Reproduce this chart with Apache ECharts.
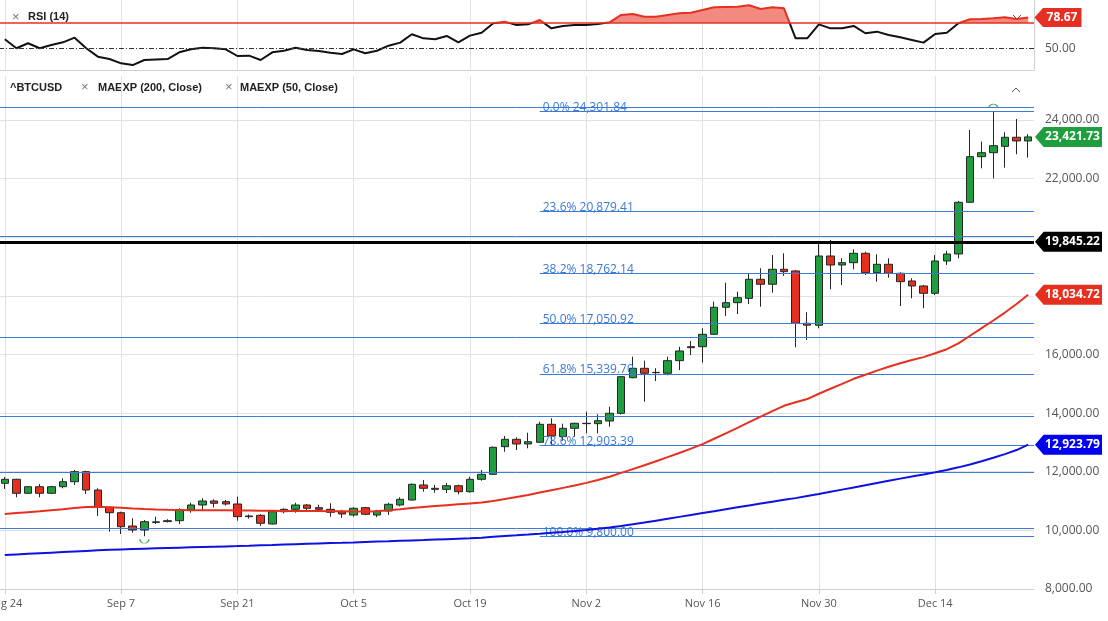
<!DOCTYPE html>
<html>
<head>
<meta charset="utf-8">
<title>^BTCUSD</title>
<script src="https://cdn.jsdelivr.net/npm/echarts@6/dist/echarts.min.js"></script>
<style>
html, body { margin: 0; padding: 0; background: #fff; }
#chart { width: 1108px; height: 621px; }
</style>
</head>
<body>
<div id="chart"></div>
<script>
// trading days Aug 24 - Dec 24 2020
var dates = [
  'Aug 24','Aug 25','Aug 26','Aug 27','Aug 28','Aug 31',
  'Sep 1','Sep 2','Sep 3','Sep 4','Sep 7','Sep 8','Sep 9','Sep 10','Sep 11',
  'Sep 14','Sep 15','Sep 16','Sep 17','Sep 18','Sep 21','Sep 22','Sep 23','Sep 24','Sep 25',
  'Sep 28','Sep 29','Sep 30','Oct 1','Oct 2','Oct 5','Oct 6','Oct 7','Oct 8','Oct 9',
  'Oct 12','Oct 13','Oct 14','Oct 15','Oct 16','Oct 19','Oct 20','Oct 21','Oct 22','Oct 23',
  'Oct 26','Oct 27','Oct 28','Oct 29','Oct 30','Nov 2','Nov 3','Nov 4','Nov 5','Nov 6',
  'Nov 9','Nov 10','Nov 11','Nov 12','Nov 13','Nov 16','Nov 17','Nov 18','Nov 19','Nov 20',
  'Nov 23','Nov 24','Nov 25','Nov 26','Nov 27','Nov 30','Dec 1','Dec 2','Dec 3','Dec 4',
  'Dec 7','Dec 8','Dec 9','Dec 10','Dec 11','Dec 14','Dec 15','Dec 16','Dec 17','Dec 18',
  'Dec 21','Dec 22','Dec 23','Dec 24'
];

var opens = [
  11606, 11742, 11265, 11490, 11265, 11490, 11660, 12002, 11377, 10787,
  10603, 10149, 10013, 10270, 10300, 10330, 10695, 10866, 11002, 10980,
  10900, 10490, 10514, 10218, 10637, 10719, 10866, 10775, 10719, 10637,
  10524, 10775, 10524, 10661, 10866, 11036, 11548, 11435, 11400, 11524,
  11320, 11742, 11913, 12855, 13107, 12947, 13005, 13619, 13196, 13482,
  13653, 13640, 13730, 13994, 15209, 15529, 15380, 15359, 15789, 16266,
  16266, 16689, 17610, 17767, 17915, 18565, 18395, 18907, 18850, 17064,
  16996, 19360, 19053, 19132, 19452, 18791, 19077, 18770, 18508, 18337,
  18087, 19190, 19428, 21192, 22748, 22884, 23100, 23410, 23284
];
var closes = [
  11742, 11265, 11490, 11265, 11490, 11660, 12002, 11377, 10787, 10603,
  10125, 10013, 10296, 10290, 10330, 10695, 10866, 11002, 10924, 10900,
  10467, 10467, 10241, 10637, 10719, 10866, 10753, 10719, 10617, 10558,
  10753, 10548, 10661, 10889, 11060, 11572, 11435, 11400, 11524, 11320,
  11742, 11913, 12834, 13107, 12947, 13025, 13619, 13220, 13482, 13653,
  13640, 13742, 13994, 15243, 15529, 15359, 15390, 15789, 16120, 16232,
  16689, 17610, 17767, 17938, 18565, 18395, 18907, 18825, 17064, 17000,
  19360, 19053, 19132, 19452, 18791, 19077, 18770, 18484, 18337, 18087,
  19190, 19428, 21192, 22748, 22884, 23123, 23410, 23284, 23421.73
];
var highs = [
  11821, 11760, 11510, 11582, 11520, 11777, 12060, 12036, 11435, 10800,
  10637, 10412, 10354, 10467, 10380, 10753, 10944, 11094, 11060, 11040,
  11149, 10540, 10558, 10680, 10753, 10944, 10900, 10876, 10924, 10700,
  10790, 10800, 10700, 10944, 11128, 11600, 11719, 11548, 11617, 11560,
  11830, 12060, 12860, 13220, 13175, 13333, 13708, 13823, 13640, 13674,
  14049, 13960, 14219, 15260, 15925, 15789, 15530, 15925, 16266, 16460,
  16894, 17800, 18449, 18142, 18770, 18941, 19394, 19452, 18883, 17440,
  19794, 19906, 19282, 19589, 19507, 19418, 19282, 18804, 18600, 18371,
  19394, 19541, 21237, 23659, 23260, 24301.84, 23580, 24034, 23513
];
var lows = [
  11412, 11128, 11250, 11128, 11240, 11435, 11548, 11241, 10490, 9955,
  9876, 9921, 9800, 10218, 10270, 10218, 10603, 10671, 10780, 10850,
  10330, 10400, 10150, 10200, 10580, 10603, 10690, 10660, 10467, 10425,
  10467, 10520, 10450, 10524, 10820, 11020, 11320, 11286, 11275, 11230,
  11285, 11695, 11890, 12684, 12742, 12800, 12980, 12912, 13060, 13196,
  13311, 13311, 13537, 13950, 15190, 14390, 15096, 15290, 15470, 15983,
  15720, 16665, 17313, 17382, 17723, 17631, 18108, 18680, 16245, 16495,
  16894, 18224, 18370, 18907, 18712, 18484, 18620, 17655, 17917, 17576,
  18030, 19053, 19282, 21192, 22352, 22011, 22373, 22830, 22714
];

var ema50 = [
  10560, 10590, 10620, 10650, 10685, 10720, 10760, 10800, 10810, 10790,
  10770, 10745, 10725, 10710, 10700, 10695, 10690, 10690, 10688, 10685,
  10680, 10675, 10670, 10668, 10665, 10663, 10660, 10658, 10655, 10650,
  10645, 10645, 10650, 10690, 10720, 10760, 10800, 10830, 10860, 10890,
  10920, 10950, 11000, 11070, 11140, 11210, 11290, 11370, 11450, 11530,
  11620, 11720, 11831, 11960, 12090, 12220, 12360, 12500, 12640, 12790,
  12940, 13125, 13310, 13495, 13690, 13880, 14070, 14250, 14370, 14480,
  14660, 14830, 15000, 15170, 15310, 15450, 15580, 15700, 15810, 15910,
  16040, 16180, 16380, 16640, 16900, 17160, 17430, 17720, 18034.72
];
var ema200 = [
  9160, 9180, 9200, 9220, 9240, 9260, 9280, 9300, 9318, 9335,
  9350, 9362, 9374, 9386, 9398, 9410, 9421, 9432, 9443, 9454,
  9465, 9477, 9490, 9502, 9515, 9527, 9540, 9552, 9565, 9577,
  9590, 9605, 9618, 9630, 9643, 9656, 9670, 9685, 9700, 9716,
  9732, 9750, 9780, 9805, 9830, 9858, 9887, 9917, 9948, 9980,
  10015, 10055, 10100, 10150, 10205, 10265, 10330, 10395, 10460, 10525,
  10590, 10655, 10720, 10785, 10850, 10915, 10980, 11045, 11100, 11170,
  11240, 11315, 11390, 11465, 11540, 11615, 11690, 11765, 11835, 11905,
  11980, 12060, 12150, 12250, 12360, 12475, 12600, 12740, 12923.79
];
var rsi = [
  58.5, 50.2, 54.8, 50.2, 53.2, 55.7, 60.0, 50.2, 42.4, 40.2,
  36.2, 34.6, 39.3, 39.8, 40.2, 46.4, 49.2, 50.7, 50.2, 49.2,
  43.0, 43.3, 39.3, 46.4, 47.9, 50.7, 48.6, 47.6, 46.1, 44.9,
  49.2, 45.5, 47.9, 52.6, 55.4, 63.2, 59.4, 58.5, 61.6, 55.7,
  61.9, 64.6, 73.4, 74.9, 71.8, 72.4, 76.4, 68.7, 70.9, 71.8,
  71.8, 72.7, 74.3, 81.1, 82.0, 79.5, 79.5, 81.1, 82.7, 83.2,
  85.7, 88.2, 88.5, 88.8, 90.1, 86.6, 88.2, 87.3, 59.4, 59.4,
  72.4, 68.7, 68.7, 70.9, 64.1, 65.6, 62.5, 60.4, 57.9, 55.4,
  63.4, 64.6, 73.4, 77.1, 77.4, 78.0, 78.9, 77.4, 78.67
];

var fibRatios = ['0.0%', '23.6%', '38.2%', '50.0%', '61.8%', '78.6%', '100.0%'];
var fibLevels = [24301.84, 20879.41, 18762.14, 17050.92, 15339.70, 12903.39, 9800.00];
var fibStart = 46; // first candle of the retracement lines
var hLines = [24420, 20030, 16580, 13880, 11975, 10071];
var keyLevel = 19845.22;
var rsiLimit = 74;
var rsiMid = 50;

var GREEN = '#1e9e3c', RED = '#e6301f', BLUE = '#1010e0', FIB = '#3b7ad6';
var GRID_LEFT = -1, GRID_RIGHT = 74;

function fmt(v) {
  return v.toLocaleString('en-US', {minimumFractionDigits: 2, maximumFractionDigits: 2});
}

var n = dates.length;
var last = n - 1;
var candles = dates.map(function (d, i) { return [opens[i], closes[i], lows[i], highs[i]]; });
var hiIdx = highs.indexOf(Math.max.apply(null, highs));
var loIdx = lows.indexOf(Math.min.apply(null, lows));

var tagPath = 'path://M0,10 L9,0 L70,0 L70,20 L9,20 Z';
function tag(value, color, w) {
  return {
    coord: [n, value],
    symbol: tagPath,
    symbolSize: [w, 20],
    symbolOffset: [w / 2 + 1, 0],
    itemStyle: {color: color},
    label: {show: true, position: 'inside', offset: [4, 0], formatter: fmt(value),
      color: '#fff', fontWeight: 'bold', fontSize: 12, fontFamily: 'Open Sans'}
  };
}

var fibLines = fibLevels.map(function (v, k) {
  return [
    {name: fibRatios[k] + ' ' + fmt(v), coord: [fibStart + 0.5, v]},
    {coord: [n, v]}
  ];
});
var plainLines = hLines.map(function (v) {
  return {yAxis: v, label: {show: false}};
});

var splitX = {show: true, interval: 9, alignWithLabel: true, lineStyle: {color: '#e2e2e2'}};
var axisFont = {color: '#555', fontSize: 12, fontFamily: 'Open Sans'};

var myChart = echarts.init(document.getElementById('chart'));

var option = {
  animation: false,
  backgroundColor: '#fff',
  grid: [
    {left: GRID_LEFT, right: GRID_RIGHT, top: 0, height: 70, outerBoundsMode: 'none', containLabel: false},
    {left: GRID_LEFT, right: GRID_RIGHT, top: 76, bottom: 32, outerBoundsMode: 'none', containLabel: false}
  ],
  xAxis: [
    {
      type: 'category', gridIndex: 1, data: dates, boundaryGap: true,
      axisLine: {lineStyle: {color: '#cfcfcf'}},
      axisTick: {show: true, interval: 9, alignWithLabel: true, length: 5, lineStyle: {color: '#cfcfcf'}},
      axisLabel: {interval: 9, margin: 9, color: '#555', fontSize: 11, fontFamily: 'Open Sans'},
      splitLine: splitX
    },
    {type: 'value', gridIndex: 1, min: 0, max: n, show: false},
    {
      type: 'category', gridIndex: 0, data: dates, boundaryGap: true,
      axisLine: {lineStyle: {color: '#cfcfcf'}},
      axisTick: {show: false}, axisLabel: {show: false},
      splitLine: splitX
    }
  ],
  yAxis: [
    {
      type: 'value', gridIndex: 0, position: 'right', min: 30, max: 95, interval: 5,
      axisLine: {show: true, lineStyle: {color: '#cfcfcf'}},
      axisTick: {show: false},
      splitLine: {show: false},
      axisLabel: Object.assign({margin: 11, formatter: function (v) { return v === rsiMid ? fmt(v) : ''; }}, axisFont)
    },
    {
      type: 'value', gridIndex: 1, position: 'right', min: 8000, max: 25500, interval: 2000,
      axisLine: {show: true, lineStyle: {color: '#cfcfcf'}},
      axisTick: {show: false},
      splitLine: {show: true, showMaxLine: false, lineStyle: {color: '#e2e2e2'}},
      axisLabel: Object.assign({margin: 11, showMaxLabel: false, formatter: function (v) { return fmt(v); }}, axisFont)
    }
  ],
  visualMap: {
    type: 'piecewise', show: false, seriesIndex: 4, dimension: 1,
    pieces: [
      {gte: 0, lte: rsiLimit, color: '#111'},
      {gt: rsiLimit, lte: 100, color: RED}
    ],
    outOfRange: {color: '#111'}
  },
  series: [
    {
      name: '^BTCUSD', type: 'candlestick', xAxisIndex: 0, yAxisIndex: 1,
      data: candles, barWidth: 8, z: 4,
      itemStyle: {color: GREEN, color0: RED, borderColor: '#262626', borderColor0: '#262626', borderWidth: 1}
    },
    {
      name: 'MAEXP (50, Close)', type: 'line', xAxisIndex: 0, yAxisIndex: 1, data: ema50,
      showSymbol: false, z: 5, lineStyle: {color: RED, width: 2}, itemStyle: {color: RED}
    },
    {
      name: 'MAEXP (200, Close)', type: 'line', xAxisIndex: 0, yAxisIndex: 1, data: ema200,
      showSymbol: false, z: 5, lineStyle: {color: BLUE, width: 2}, itemStyle: {color: BLUE}
    },
    {
      name: 'levels', type: 'line', xAxisIndex: 1, yAxisIndex: 1, data: [], z: 2,
      markLine: {
        silent: true, symbol: ['none', 'none'], animation: false,
        lineStyle: {color: FIB, width: 1, type: 'solid'},
        label: {show: true, position: 'insideStartTop', formatter: '{b}', distance: [3, -2],
          color: FIB, fontSize: 12, fontFamily: 'Open Sans'},
        data: plainLines.concat(fibLines).concat([
          {yAxis: keyLevel, label: {show: false}, lineStyle: {color: '#000', width: 3}}
        ])
      },
      markPoint: {
        silent: true, animation: false,
        data: [
          tag(closes[last], GREEN, 67),
          tag(keyLevel, '#000', 67),
          tag(ema50[last], RED, 67),
          tag(ema200[last], '#0000ee', 67),
          {coord: [hiIdx + 0.5, highs[hiIdx]], symbol: 'path://M0,10 A10,10 0 0 1 20,10',
            symbolSize: [9, 4], symbolOffset: [0, -5],
            itemStyle: {color: 'none', borderColor: '#3aa85a', borderWidth: 1}, label: {show: false}},
          {coord: [loIdx + 0.5, lows[loIdx]], symbol: 'path://M0,0 A10,10 0 0 0 20,0',
            symbolSize: [9, 4], symbolOffset: [0, 5],
            itemStyle: {color: 'none', borderColor: '#3aa85a', borderWidth: 1}, label: {show: false}}
        ]
      }
    },
    {
      id: 'rsi', name: 'RSI (14)', type: 'line', xAxisIndex: 2, yAxisIndex: 0, data: rsi,
      showSymbol: false, z: 4, lineStyle: {width: 2},
      markLine: {
        silent: true, symbol: ['none', 'none'], animation: false, label: {show: false},
        data: [
          {yAxis: rsiLimit, lineStyle: {color: RED, width: 1.5, type: 'solid'}},
          {yAxis: rsiMid, lineStyle: {color: '#333', width: 1, type: [5, 2, 1, 2]}}
        ]
      },
      markPoint: {
        silent: true, animation: false,
        data: [{
          coord: [last, rsi[last]], symbol: 'path://M0,10 L9,0 L50,0 L50,20 L9,20 Z',
          symbolSize: [47, 19], symbolOffset: [5.8 + 24, 0],
          itemStyle: {color: '#e62e22'},
          label: {show: true, position: 'inside', offset: [4, 0], formatter: fmt(rsi[last]),
            color: '#fff', fontWeight: 'bold', fontSize: 12, fontFamily: 'Open Sans'}
        }]
      }
    }
  ],
  graphic: [
    {type: 'text', left: 12, top: 11, style: {text: '×', font: '13px "Liberation Sans"', fill: '#777'}},
    {type: 'text', left: 28, top: 11, style: {text: 'RSI (14)', font: 'bold 11px "Liberation Sans"', fill: '#222'}},
    {type: 'text', left: 10, top: 82, style: {text: '^BTCUSD', font: 'bold 11px "Liberation Sans"', fill: '#222'}},
    {type: 'text', left: 81, top: 81, style: {text: '×', font: '13px "Liberation Sans"', fill: '#777'}},
    {type: 'text', left: 98, top: 82, style: {text: 'MAEXP (200, Close)', font: 'bold 11px "Liberation Sans"', fill: '#222'}},
    {type: 'text', left: 225, top: 81, style: {text: '×', font: '13px "Liberation Sans"', fill: '#777'}},
    {type: 'text', left: 240, top: 82, style: {text: 'MAEXP (50, Close)', font: 'bold 11px "Liberation Sans"', fill: '#222'}},
    {type: 'polyline', shape: {points: [[1012, 92], [1016, 88], [1020, 92]]}, style: {stroke: '#555', lineWidth: 1, fill: null}},
    {type: 'polyline', shape: {points: [[1013, 15], [1017, 19], [1021, 15]]}, style: {stroke: '#555', lineWidth: 1, fill: null}}
  ]
};

myChart.setOption(option);

// red fill only above the overbought line
var yLim = myChart.convertToPixel({yAxisIndex: 0}, rsiLimit);
myChart.setOption({
  series: [{
    id: 'rsi',
    areaStyle: {
      opacity: 1,
      color: {
        type: 'linear', x: 0, y: 0, x2: 0, y2: 70, global: true,
        colorStops: [
          {offset: 0, color: '#f28a80'},
          {offset: yLim / 70, color: '#f28a80'},
          {offset: yLim / 70, color: 'rgba(255,255,255,0)'},
          {offset: 1, color: 'rgba(255,255,255,0)'}
        ]
      }
    }
  }]
});
</script>
</body>
</html>
